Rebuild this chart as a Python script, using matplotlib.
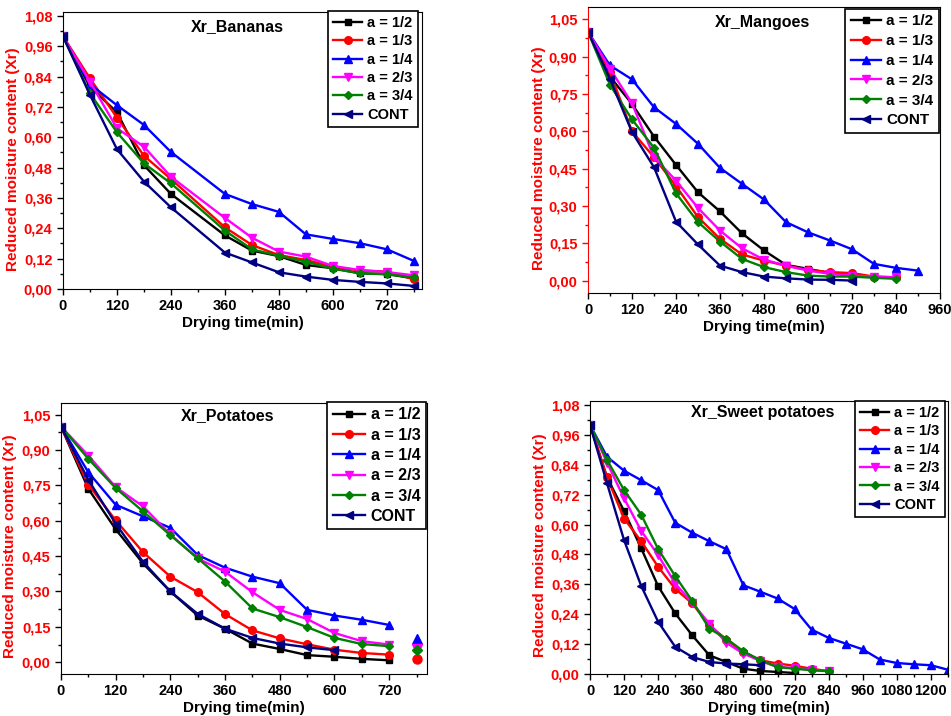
import numpy as np
import matplotlib
matplotlib.use("Agg")
import matplotlib.pyplot as plt
from matplotlib.ticker import MultipleLocator, AutoMinorLocator, FuncFormatter

plt.rcParams['font.family'] = ['Liberation Sans', 'DejaVu Sans']
plt.rcParams['font.weight'] = 'bold'
plt.rcParams['axes.labelweight'] = 'bold'

labels = ["a = 1/2", "a = 1/3", "a = 1/4", "a = 2/3", "a = 3/4", "CONT"]
colors = ["black", "red", "blue", "magenta", "green", "navy"]
markers = ["s", "o", "^", "v", "D", "<"]
msizes = [5, 5.5, 6, 6, 4.5, 6]

# Bananas (no reading at 300 min)
t_ban = [0, 60, 120, 180, 240, 360, 420, 480, 540, 600, 660, 720, 780]
ban_12 = [1.0, 0.80, 0.699, 0.49, 0.376, 0.212, 0.152, 0.13, 0.095, 0.082, 0.062, 0.059, 0.042]
ban_13 = [1.0, 0.833, 0.678, 0.527, 0.435, 0.244, 0.174, 0.134, 0.115, 0.088, 0.073, 0.069, 0.038]
ban_14 = [1.0, 0.81, 0.727, 0.649, 0.542, 0.376, 0.336, 0.305, 0.216, 0.198, 0.181, 0.157, 0.111]
ban_23 = [1.0, 0.82, 0.636, 0.563, 0.444, 0.281, 0.203, 0.148, 0.128, 0.091, 0.075, 0.067, 0.054]
ban_34 = [1.0, 0.774, 0.62, 0.497, 0.418, 0.231, 0.157, 0.131, 0.108, 0.08, 0.062, 0.058, 0.046]
ban_cont = [1.0, 0.768, 0.553, 0.425, 0.323, 0.144, 0.105, 0.066, 0.049, 0.036, 0.028, 0.022, 0.012]

# Mangoes
t_man = [0, 60, 120, 180, 240, 300, 360, 420, 480, 540, 600, 660, 720, 780, 840, 900]
man_12 = [1.0, 0.82, 0.71, 0.579, 0.465, 0.355, 0.278, 0.19, 0.121, 0.063, 0.047, 0.03, 0.024, 0.013, 0.013]
man_13 = [1.0, 0.838, 0.60, 0.496, 0.38, 0.255, 0.168, 0.105, 0.08, 0.06, 0.043, 0.034, 0.03, 0.016, 0.013]
man_14 = [1.0, 0.865, 0.809, 0.697, 0.63, 0.55, 0.453, 0.389, 0.326, 0.235, 0.194, 0.161, 0.126, 0.067, 0.051, 0.04]
man_23 = [1.0, 0.852, 0.713, 0.496, 0.402, 0.292, 0.201, 0.13, 0.084, 0.06, 0.04, 0.027, 0.02, 0.016, 0.013]
man_34 = [1.0, 0.787, 0.648, 0.534, 0.351, 0.235, 0.157, 0.087, 0.054, 0.034, 0.02, 0.016, 0.016, 0.011, 0.007]
man_cont = [1.0, 0.811, 0.597, 0.456, 0.237, 0.145, 0.06, 0.034, 0.016, 0.009, 0.004, 0.003, 0.0]

# Potatoes (the 780 min reading is not joined to the curve)
t_pot = [0, 60, 120, 180, 240, 300, 360, 420, 480, 540, 600, 660, 720, 780]
pot_12 = [1.0, 0.736, 0.564, 0.419, 0.30, 0.198, 0.142, 0.079, 0.056, 0.03, 0.023, 0.014, 0.008]
pot_13 = [1.0, 0.753, 0.602, 0.467, 0.363, 0.297, 0.204, 0.135, 0.101, 0.076, 0.053, 0.039, 0.032, 0.015]
pot_14 = [1.0, 0.806, 0.668, 0.619, 0.57, 0.455, 0.401, 0.363, 0.335, 0.222, 0.198, 0.18, 0.158, 0.099]
pot_23 = [1.0, 0.877, 0.743, 0.661, 0.542, 0.44, 0.384, 0.297, 0.222, 0.183, 0.124, 0.089, 0.075, 0.056]
pot_34 = [1.0, 0.863, 0.739, 0.64, 0.539, 0.441, 0.342, 0.228, 0.191, 0.149, 0.103, 0.077, 0.068, 0.051]
pot_cont = [1.0, 0.774, 0.588, 0.426, 0.30, 0.205, 0.142, 0.103, 0.079, 0.063, 0.051]

# Sweet potatoes
t_swp = [0, 60, 120, 180, 240, 300, 360, 420, 480, 540, 600, 660, 720, 780, 840,
         900, 960, 1020, 1080, 1140, 1200, 1260]
swp_12 = [1.0, 0.789, 0.654, 0.505, 0.352, 0.243, 0.155, 0.075, 0.048, 0.021, 0.012, 0.008, 0.004]
swp_13 = [1.0, 0.789, 0.624, 0.533, 0.43, 0.342, 0.283, 0.196, 0.138, 0.088, 0.055, 0.042, 0.033, 0.021, 0.011]
swp_14 = [1.0, 0.872, 0.816, 0.778, 0.738, 0.607, 0.567, 0.533, 0.501, 0.356, 0.33, 0.303, 0.261, 0.178,
          0.145, 0.122, 0.099, 0.058, 0.044, 0.039, 0.035, 0.017]
swp_23 = [1.0, 0.848, 0.705, 0.575, 0.477, 0.363, 0.285, 0.202, 0.125, 0.082, 0.052, 0.028, 0.024, 0.017, 0.012]
swp_34 = [1.0, 0.859, 0.738, 0.64, 0.501, 0.393, 0.293, 0.182, 0.142, 0.091, 0.055, 0.028, 0.021, 0.015, 0.011]
swp_cont = [1.0, 0.765, 0.537, 0.354, 0.209, 0.109, 0.068, 0.048, 0.042, 0.039, 0.035]


def comma(v, pos):
    return ("%.2f" % v).replace(".", ",")


fig = plt.figure(figsize=(9.51, 7.16), dpi=100)


def panel(rect, t, series, title, title_xy, xlim, ylim, xmax_tick, ystep,
          leg_anchor, leg_size, leg_spacing, last_loose=None, red_spine=False):
    ax = fig.add_axes(rect)
    for i, vals in enumerate(series):
        n = len(vals)
        if last_loose is not None and n > last_loose:
            n_line = last_loose
        else:
            n_line = n
        ax.plot(t[:n_line], vals[:n_line], color=colors[i], marker=markers[i],
                ms=msizes[i], lw=1.7, label=labels[i])
        if n > n_line:
            ax.plot(t[n_line:n], vals[n_line:], ls="none", color=colors[i],
                    marker=markers[i], ms=msizes[i] + 1)
    ax.set_xlim(*xlim)
    ax.set_ylim(*ylim)
    ax.xaxis.set_major_locator(MultipleLocator(120))
    ax.xaxis.set_minor_locator(AutoMinorLocator(2))
    ax.yaxis.set_major_locator(MultipleLocator(ystep))
    ax.yaxis.set_minor_locator(AutoMinorLocator(2))
    ax.set_xticks([v for v in range(0, xmax_tick + 1, 120)])
    ax.yaxis.set_major_formatter(FuncFormatter(comma))
    ax.tick_params(which="major", length=4, width=1, labelsize=10.5)
    ax.tick_params(which="minor", length=2.5, width=1)
    ax.tick_params(axis="y", labelcolor="red")
    if red_spine:
        ax.spines["left"].set_color("red")
        ax.tick_params(axis="y", which="both", color="red")
    ax.set_xlabel("Drying time(min)", fontsize=11, labelpad=2)
    ax.set_ylabel("Reduced moisture content (Xr)", color="red", fontsize=11)
    ax.yaxis.set_label_coords(-0.12, 0.47)
    ax.text(title_xy[0], title_xy[1], title, transform=ax.transAxes,
            ha="center", va="center", fontsize=11.5, fontweight="bold")
    leg = ax.legend(loc="upper right", bbox_to_anchor=leg_anchor, borderaxespad=0,
                    fontsize=leg_size, labelspacing=leg_spacing, handlelength=2.0,
                    handletextpad=0.35, fancybox=False, framealpha=1,
                    edgecolor="black", borderpad=0.35)
    leg.get_frame().set_linewidth(1.2)
    return ax


panel([0.0662, 0.5964, 0.3775, 0.3869], t_ban,
      [ban_12, ban_13, ban_14, ban_23, ban_34, ban_cont], "Xr_Bananas",
      (0.485, 0.949), (0, 798), (0, 1.096), 720, 0.12,
      (0.989, 1.004), 10.5, 0.3)

panel([0.6183, 0.5908, 0.3701, 0.3994], t_man,
      [man_12, man_13, man_14, man_23, man_34, man_cont], "Xr_Mangoes",
      (0.497, 0.947), (0, 960), (-0.05, 1.10), 960, 0.15,
      (0.997, 0.993), 11, 0.38, red_spine=True)

panel([0.0641, 0.0587, 0.3849, 0.3785], t_pot,
      [pot_12, pot_13, pot_14, pot_23, pot_34, pot_cont], "Xr_Potatoes",
      (0.454, 0.952), (0, 803), (-0.05, 1.10), 720, 0.15,
      (0.997, 1.004), 11.5, 0.33, last_loose=13)

panel([0.6204, 0.0587, 0.3764, 0.3813], t_swp,
      [swp_12, swp_13, swp_14, swp_23, swp_34, swp_cont], "Xr_Sweet potatoes",
      (0.483, 0.956), (0, 1260), (0, 1.096), 1200, 0.12,
      (0.992, 1.0), 10.5, 0.3)

fig.savefig("out.png", dpi=100)
